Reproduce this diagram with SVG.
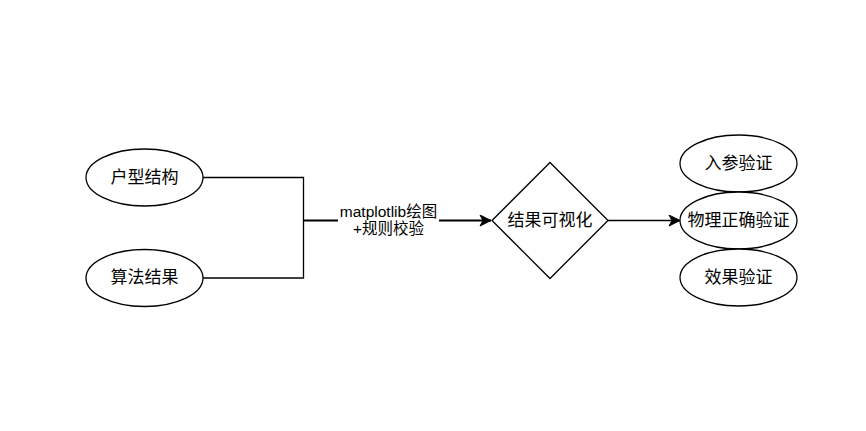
<svg xmlns="http://www.w3.org/2000/svg" width="866" height="431" viewBox="0 0 866 431">
  <defs>
    <style>
      .shape { fill: #ffffff; stroke: #000000; stroke-width: 1.3; }
      .lbl { font-family: "Liberation Sans", "Noto Sans CJK SC", sans-serif; font-size: 17px; fill: #000000; text-anchor: middle; dominant-baseline: central; }
      .elbl { font-family: "Liberation Sans", "Noto Sans CJK SC", sans-serif; font-size: 15.5px; fill: #000000; text-anchor: middle; dominant-baseline: central; }
      .wire { fill: none; stroke: #000000; stroke-width: 1.3; }
      .wire2 { fill: none; stroke: #000000; stroke-width: 2; }
    </style>
    <marker id="arrow" markerUnits="userSpaceOnUse" markerWidth="14" markerHeight="12" viewBox="0 0 14 12" refX="12" refY="6" orient="auto">
      <path d="M12,6 L1,0.5 L4,6 L1,11.5 Z" fill="#000000" stroke="#000000" stroke-width="1"/>
    </marker>
  </defs>
  <rect width="866" height="431" fill="#ffffff"/>

  <g id="connectors">
    <path class="wire" d="M203,177.5 H303.5 V278 H203"/>
    <path class="wire2" d="M303.5,220.5 H491" marker-end="url(#arrow)"/>
    <rect x="338" y="201" width="101" height="38" fill="#ffffff"/>
    <text class="elbl" x="388.5" y="211">matplotlib绘图</text>
    <text class="elbl" x="388.5" y="228">+规则校验</text>
    <path class="wire" d="M608,220.5 H680" marker-end="url(#arrow)"/>
  </g>

  <g id="node-huxing">
    <ellipse class="shape" cx="144.5" cy="177.5" rx="58.5" ry="28.5"/>
    <text class="lbl" x="144.5" y="177">户型结构</text>
  </g>
  <g id="node-suanfa">
    <ellipse class="shape" cx="144.5" cy="278" rx="58.5" ry="28.5"/>
    <text class="lbl" x="144.5" y="277.5">算法结果</text>
  </g>
  <g id="node-visual">
    <polygon class="shape" points="492,220.5 550,162.5 608,220.5 550,278.5"/>
    <text class="lbl" x="550" y="220">结果可视化</text>
  </g>
  <g id="node-rucan">
    <ellipse class="shape" cx="738.5" cy="163.5" rx="58.5" ry="28.5"/>
    <text class="lbl" x="738.5" y="163">入参验证</text>
  </g>
  <g id="node-wuli">
    <ellipse class="shape" cx="738.5" cy="220.5" rx="58.5" ry="28.5"/>
    <text class="lbl" x="738.5" y="220">物理正确验证</text>
  </g>
  <g id="node-xiaoguo">
    <ellipse class="shape" cx="738.5" cy="277.5" rx="58.5" ry="28.5"/>
    <text class="lbl" x="738.5" y="277">效果验证</text>
  </g>
</svg>
